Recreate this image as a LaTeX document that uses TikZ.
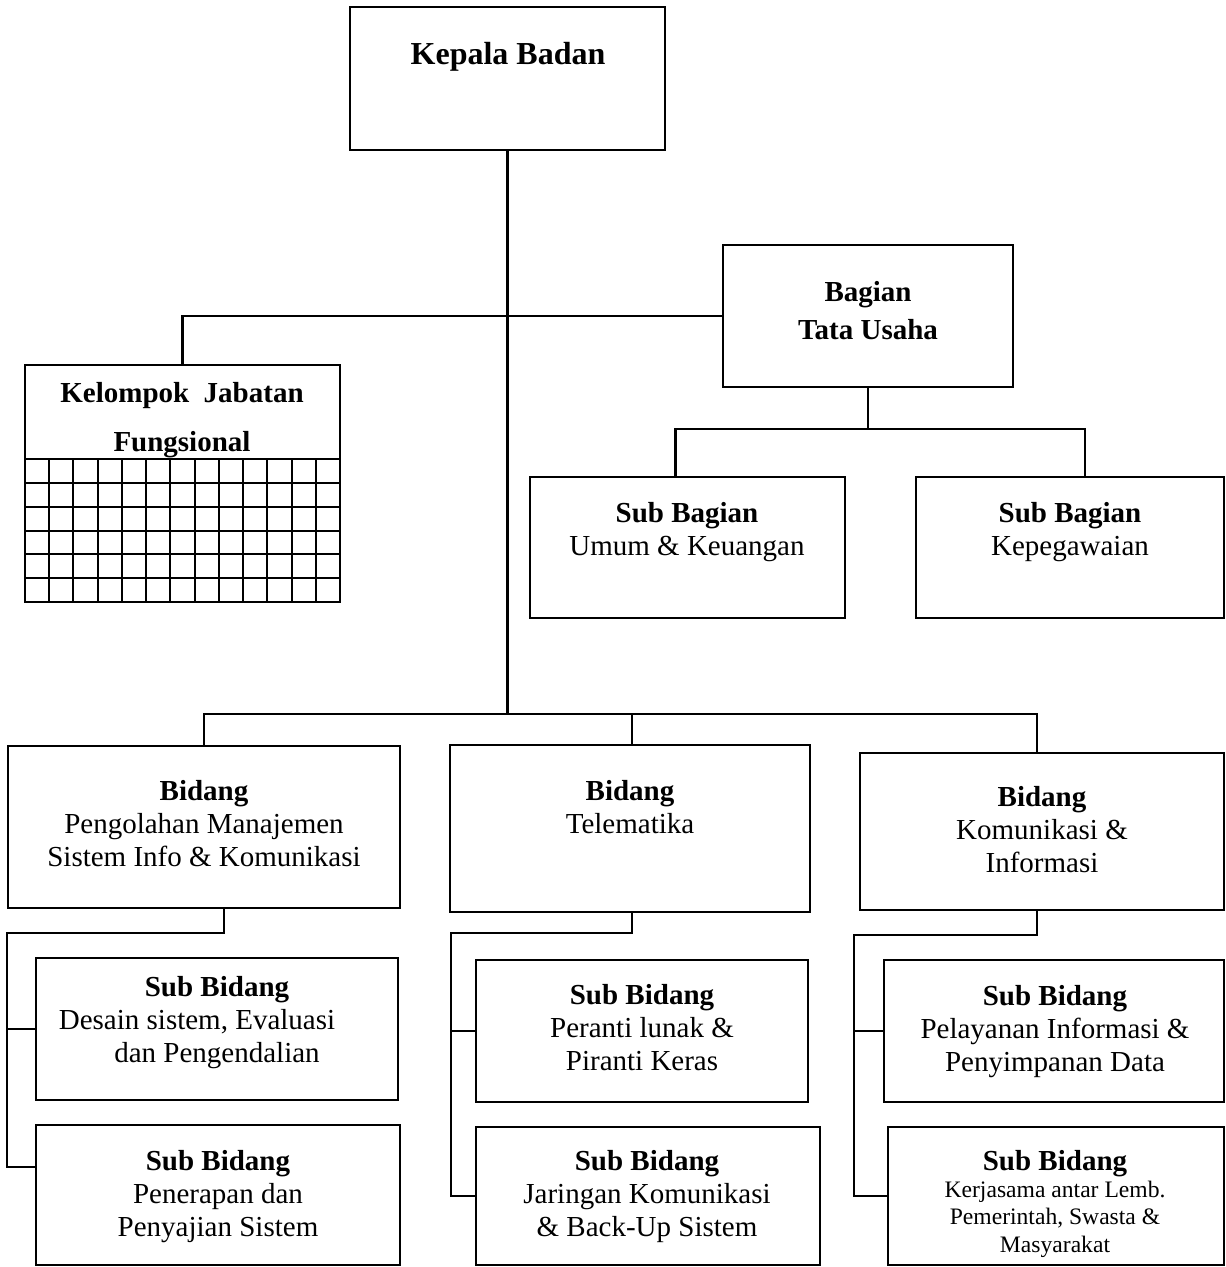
\documentclass[tikz,border=0pt]{standalone}
\usepackage{fontspec}
\setmainfont{Liberation Serif}
\usetikzlibrary{fit}
\newcommand{\mlines}[1]{\begin{tabular}[t]{@{}c@{}}#1\end{tabular}}
\begin{document}
\begin{tikzpicture}[x=0.5pt,y=-0.5pt,
  box/.style={draw, line width=1.1pt, inner sep=0pt},
  conn/.style={line width=1.1pt},
  gridln/.style={line width=1pt},
  txt/.style={inner sep=0pt, anchor=base, font=\fontsize{14.5}{16.5}\selectfont},
  smalltxt/.style={inner sep=0pt, anchor=base, font=\fontsize{11.8}{13.75}\selectfont}]
\useasboundingbox (0,0) rectangle (1225,1267);

% boxes
\node[box, fit={(350,7) (665,150)}] (kb) {};
\node[box, fit={(723,245) (1013,387)}] (bag) {};
\node[box, fit={(25,365) (340,602)}] (kjf) {};
\node[box, fit={(530,477) (845,618)}] (sbu) {};
\node[box, fit={(916,477) (1224,618)}] (sbk) {};
\node[box, fit={(8,746) (400,908)}] (b1) {};
\node[box, fit={(450,745) (810,912)}] (b2) {};
\node[box, fit={(860,753) (1224,910)}] (b3) {};
\node[box, fit={(36,958) (398,1100)}] (s1a) {};
\node[box, fit={(36,1125) (400,1265)}] (s1b) {};
\node[box, fit={(476,960) (808,1102)}] (s2a) {};
\node[box, fit={(476,1127) (820,1265)}] (s2b) {};
\node[box, fit={(884,960) (1224,1102)}] (s3a) {};
\node[box, fit={(888,1127) (1224,1265)}] (s3b) {};

% grid inside Kelompok Jabatan Fungsional
\foreach \i in {1,...,12}
  \draw[gridln] ({25+\i*315/13},459) -- ({25+\i*315/13},602);
\foreach \j in {0,...,5}
  \draw[gridln] (25,{459+\j*143/6}) -- (340,{459+\j*143/6});

% connectors
\coordinate (busy) at (0,714);
\coordinate (tjy) at (0,429);
\draw[conn] (kb.south) -- (kb.south |- busy);
\draw[conn] (kjf.north) |- (bag.west);
\draw[conn] (bag.south) -- (bag.south |- tjy);
\draw[conn] ([xshift=-6pt]sbu.north) |- (bag.south |- tjy) -| ([xshift=7.5pt]sbk.north);
\draw[conn] (b1.north) |- (kb.south |- busy) -| ([xshift=-2.5pt]b3.north);
\draw[conn] ([xshift=1pt]b2.north) -- ([xshift=1pt]b2.north |- busy);

\coordinate (j1) at (7,933);
\draw[conn] ([xshift=10pt]b1.south) |- (j1) |- (s1a.west);
\draw[conn] (j1) |- ([yshift=14pt]s1b.west);

\coordinate (j2) at (451,933);
\draw[conn] ([xshift=1pt]b2.south) |- (j2) |- (s2a.west);
\draw[conn] (j2) |- (s2b.west);

\coordinate (j3) at (854,935);
\draw[conn] ([xshift=-2.5pt]b3.south) |- (j3) |- (s3a.west);
\draw[conn] (j3) |- (s3b.west);

% texts
\node[txt, font=\bfseries\fontsize{16}{19}\selectfont] (t-kb) at (508,65) {Kepala Badan};
\node[txt] (t-bag) at (868,301) {\mlines{\textbf{Bagian}\\[2.5pt]\textbf{Tata Usaha}}};
\node[txt] (t-kjf) at (182,402) {\mlines{\textbf{Kelompok\ \ Jabatan}\\[8pt]\textbf{Fungsional}}};
\node[txt] (t-sbu) at (687,522) {\mlines{\textbf{Sub Bagian}\\Umum \& Keuangan}};
\node[txt] (t-sbk) at (1070,522) {\mlines{\textbf{Sub Bagian}\\Kepegawaian}};
\node[txt] (t-b1) at (204,800) {\mlines{\textbf{Bidang}\\Pengolahan Manajemen\\Sistem Info \& Komunikasi}};
\node[txt] (t-b2) at (630,800) {\mlines{\textbf{Bidang}\\Telematika}};
\node[txt] (t-b3) at (1042,806) {\mlines{\textbf{Bidang}\\Komunikasi \&\\Informasi}};
\node[txt] (t-s1a) at (217,996) {\mlines{\textbf{Sub Bidang}\\Desain sistem, Evaluasi\rule{20pt}{0pt}\\dan Pengendalian}};
\node[txt] (t-s1b) at (218,1170) {\mlines{\textbf{Sub Bidang}\\Penerapan dan\\Penyajian Sistem}};
\node[txt] (t-s2a) at (642,1004) {\mlines{\textbf{Sub Bidang}\\Peranti lunak \&\\Piranti Keras}};
\node[txt] (t-s2b) at (647,1170) {\mlines{\textbf{Sub Bidang}\\Jaringan Komunikasi\\\& Back-Up Sistem}};
\node[txt] (t-s3a) at (1055,1005) {\mlines{\textbf{Sub Bidang}\\Pelayanan Informasi \&\\Penyimpanan Data}};
\node[txt] (t-s3b) at (1055,1170) {\textbf{Sub Bidang}};
\node[smalltxt] (t-s3b2) at (1055,1197) {\mlines{Kerjasama antar Lemb.\\Pemerintah, Swasta \&\\Masyarakat}};
\end{tikzpicture}
\end{document}
